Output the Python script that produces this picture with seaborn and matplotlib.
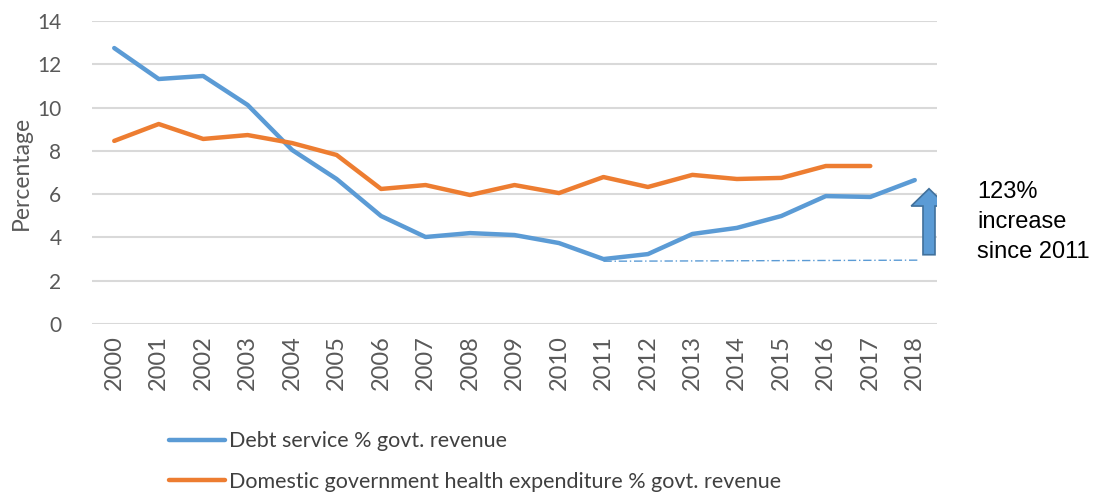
import numpy as np
import pandas as pd
import matplotlib
matplotlib.use("Agg")
import matplotlib.pyplot as plt
import seaborn as sns

years = list(range(2000, 2019))
debt_service = [12.75, 11.32, 11.46, 10.12, 8.04, 6.7, 4.99, 4.02, 4.2, 4.11,
                3.74, 3.0, 3.23, 4.16, 4.44, 4.99, 5.91, 5.87, 6.65]
health_exp = [8.46, 9.24, 8.55, 8.73, 8.36, 7.81, 6.24, 6.42, 5.96, 6.42,
              6.05, 6.79, 6.33, 6.89, 6.7, 6.75, 7.3, 7.3, np.nan]
series_names = ["Debt service % govt. revenue",
                "Domestic government health expenditure % govt. revenue"]
note = "123%\nincrease\nsince 2011"

df = pd.DataFrame({
    "year": years * 2,
    "value": debt_service + health_exp,
    "series": [series_names[0]] * len(years) + [series_names[1]] * len(years),
})

sns.set_style("white")
plt.rcParams["font.family"] = ["Lato", "DejaVu Sans"]

blue, orange = "#5B9BD5", "#ED7D31"
grey = "#595959"
fig = plt.figure(figsize=(11.15, 4.92), dpi=100)
ax = fig.add_axes([92 / 1115, 1 - 324 / 492, 845 / 1115, 303 / 492])

sns.lineplot(data=df, x="year", y="value", hue="series",
             palette=[blue, orange], linewidth=3.2, ax=ax, legend=True,
             solid_capstyle="round")

# baseline from the 2011 low
i11 = years.index(2011)
ax.plot([2011, 2018.1], [debt_service[i11] - 0.1, debt_service[i11] - 0.05],
        ls=(0, (6, 2, 1, 2)), lw=1, color=blue)
ax.arrow(2018.32, 3.2, 0, 2.25, width=0.27, head_width=0.8, head_length=0.8,
         length_includes_head=False, fc=blue, ec="#41719C", lw=1.2, zorder=5)

ax.set_xlim(1999.5, 2018.5)
ax.set_ylim(0, 14)
ax.set_xticks(years)
ax.set_xticklabels([str(y) for y in years], rotation=90, fontsize=17, color=grey)
ax.set_yticks(range(0, 15, 2))
ax.tick_params(axis="y", labelsize=15, labelcolor=grey, length=0, pad=22)
ax.tick_params(axis="x", length=0, pad=8)
ax.yaxis.grid(True, color="#d9d9d9", lw=1.5)
ax.set_xlabel("")
ax.set_ylabel("Percentage", fontsize=16.5, color=grey, labelpad=4)
for s in ax.spines.values():
    s.set_visible(False)

handles, labels = ax.get_legend_handles_labels()
ax.get_legend().remove()
fig.legend(handles, labels, loc="upper left", bbox_to_anchor=(150 / 1115, 1 - 412 / 492),
           frameon=False, handlelength=2.6, handletextpad=0.15, labelspacing=0.95,
           prop={"size": 15.5}, labelcolor="#404040")

fig.text(977 / 1115, 1 - 222 / 492, note, fontsize=17, va="center", ha="left",
         color="black", linespacing=1.45, family=["Liberation Sans", "DejaVu Sans"])

fig.savefig("out.png", dpi=100)
